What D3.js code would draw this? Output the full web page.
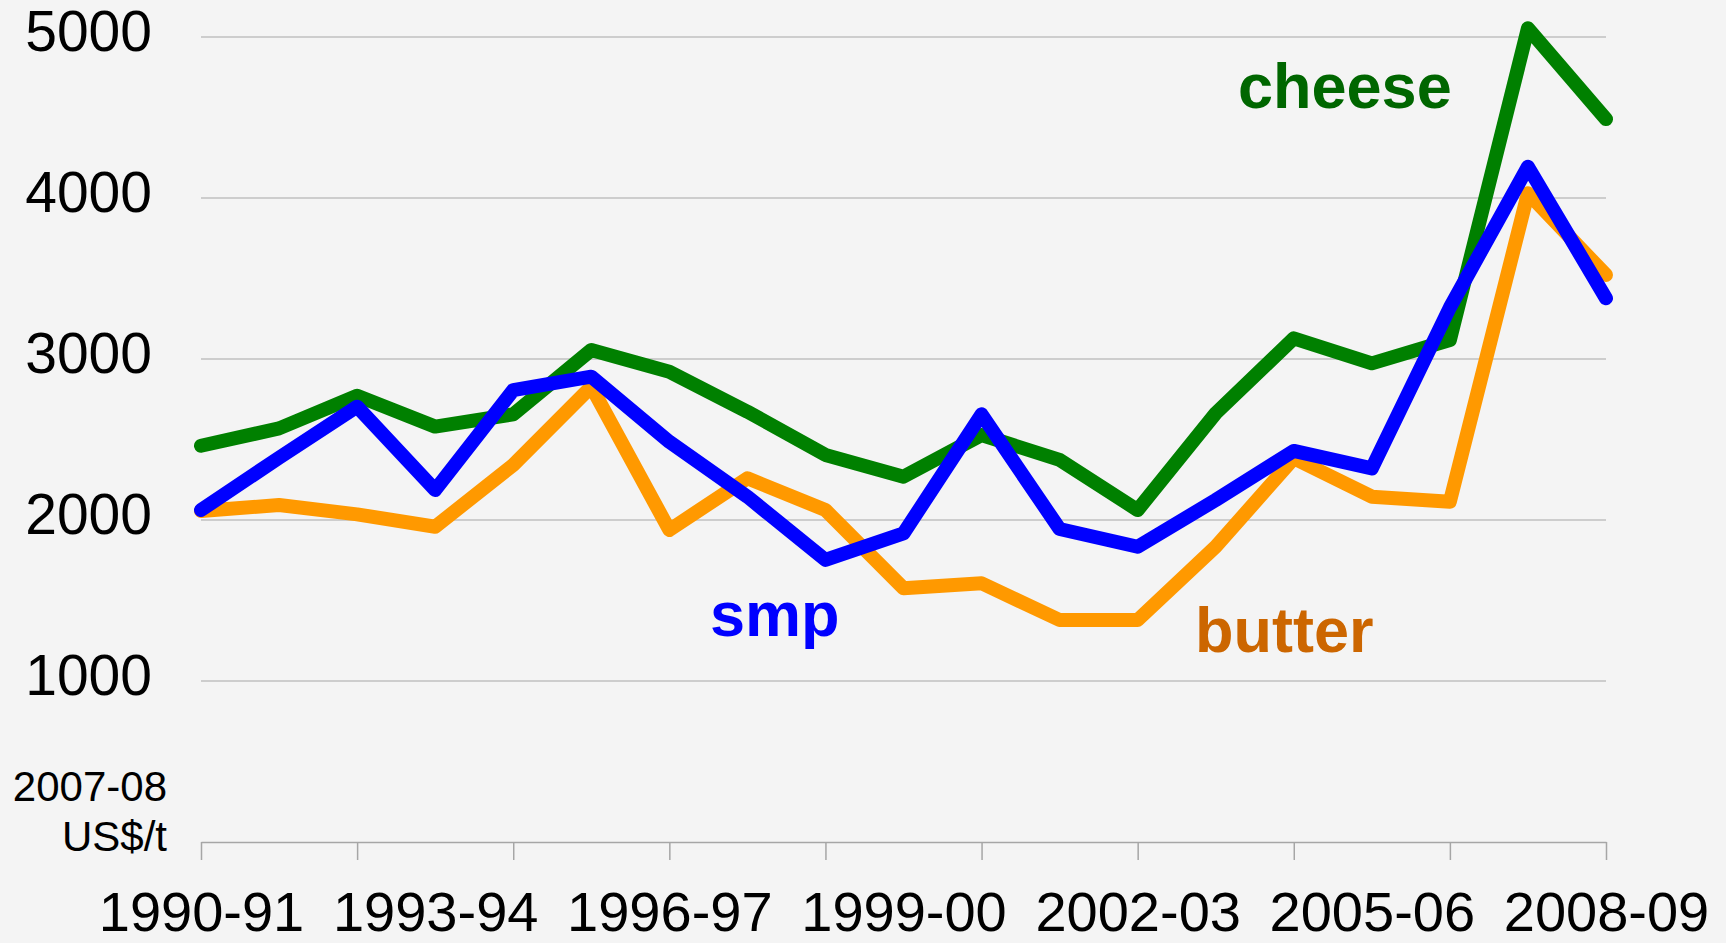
<!DOCTYPE html>
<html>
<head>
<meta charset="utf-8">
<script src="https://cdn.jsdelivr.net/npm/d3@7"></script>
<style>
  html, body { margin: 0; padding: 0; background: #f4f4f4; }
  svg { display: block; font-family: "Liberation Sans", Arial, sans-serif; }
</style>
</head>
<body>
<svg id="chart"></svg>
<script>
const width = 1726;
const height = 943;

// seasons on the x axis
const seasons = ['1990-91','1991-92','1992-93','1993-94','1994-95','1995-96','1996-97',
  '1997-98','1998-99','1999-00','2000-01','2001-02','2002-03','2003-04','2004-05',
  '2005-06','2006-07','2007-08','2008-09'];

// 2007-08 US$/t
const butter = [2056, 2093, 2035, 1958, 2342, 2828, 1938, 2259, 2062, 1576, 1607, 1379, 1379, 1834, 2383, 2145, 2114, 4029, 3522];
const cheese = [2461, 2569, 2772, 2580, 2656, 3056, 2921, 2673, 2404, 2269, 2528, 2373, 2062, 2663, 3128, 2973, 3118, 5054, 4490];
const smp    = [2062, 2387, 2704, 2186, 2807, 2890, 2486, 2145, 1752, 1917, 2656, 1944, 1834, 2124, 2429, 2321, 3320, 4194, 3377];

const yTicks = [1000, 2000, 3000, 4000, 5000];
const tickSeasons = seasons.filter((d, i) => i % 2 === 0);
const labelSeasons = seasons.filter((d, i) => i % 3 === 0);

const series = [
  {name: 'butter', values: butter, color: '#ff9900'},
  {name: 'cheese', values: cheese, color: '#008000'},
  {name: 'smp',    values: smp,    color: '#0000ff'}
];

const svg = d3.select('#chart')
  .attr('width', width)
  .attr('height', height)
  .attr('viewBox', [0, 0, width, height]);

const x = d3.scalePoint().domain(seasons).range([201, 1606]);
const y = d3.scaleLinear().domain([0, 5000]).range([842, 37]);

// gridlines
svg.append('g')
  .selectAll('line')
  .data(yTicks)
  .enter()
    .append('line')
    .attr('x1', x.range()[0])
    .attr('x2', x.range()[1])
    .attr('y1', d => y(d))
    .attr('y2', d => y(d))
    .attr('stroke', '#c0c0c0')
    .attr('stroke-width', 1.5);

// y labels
svg.append('g')
  .selectAll('text')
  .data(yTicks)
  .enter()
    .append('text')
    .attr('x', 152)
    .attr('y', d => y(d) + 14)
    .attr('text-anchor', 'end')
    .attr('font-size', 57)
    .attr('fill', '#000')
    .text(d => d);

// unit label
svg.append('text')
  .attr('x', 167).attr('y', 801)
  .attr('text-anchor', 'end').attr('font-size', 42)
  .text('2007-08');
svg.append('text')
  .attr('x', 167).attr('y', 851)
  .attr('text-anchor', 'end').attr('font-size', 42)
  .text('US$/t');

// x axis: ticks every second season
const xAxis = svg.append('g')
  .attr('transform', `translate(0,${y(0)})`)
  .call(d3.axisBottom(x).tickValues(tickSeasons).tickSize(18).tickFormat('').tickSizeOuter(0));
xAxis.select('.domain').attr('stroke', '#a6a6a6').attr('stroke-width', 1.5);
xAxis.selectAll('.tick line').attr('stroke', '#a6a6a6').attr('stroke-width', 1.5);

// x labels every third season
const xLabels = svg.append('g')
  .attr('transform', `translate(0,${y(0)})`)
  .call(d3.axisBottom(x).tickValues(labelSeasons).tickSize(0).tickPadding(0));
xLabels.select('.domain').remove();
xLabels.selectAll('text')
  .attr('font-size', 56)
  .attr('font-family', '"Liberation Sans", Arial, sans-serif')
  .attr('fill', '#000')
  .attr('dy', null)
  .attr('y', 89);

// lines
const line = d3.line()
  .x((d, i) => x(seasons[i]))
  .y(d => y(d));

svg.append('g')
  .selectAll('path')
  .data(series)
  .enter()
    .append('path')
    .attr('d', d => line(d.values))
    .attr('fill', 'none')
    .attr('stroke', d => d.color)
    .attr('stroke-width', 14)
    .attr('stroke-linejoin', 'round')
    .attr('stroke-linecap', 'round');

// series labels
const labels = [
  {text: 'cheese', x: 1238, y: 108, color: '#006600'},
  {text: 'smp',    x: 710,  y: 636, color: '#0000ff'},
  {text: 'butter', x: 1195, y: 652, color: '#cc6600'}
];
svg.append('g')
  .selectAll('text')
  .data(labels)
  .enter()
    .append('text')
    .attr('x', d => d.x)
    .attr('y', d => d.y)
    .attr('font-size', 63)
    .attr('font-weight', 'bold')
    .attr('fill', d => d.color)
    .text(d => d.text);
</script>
</body>
</html>
